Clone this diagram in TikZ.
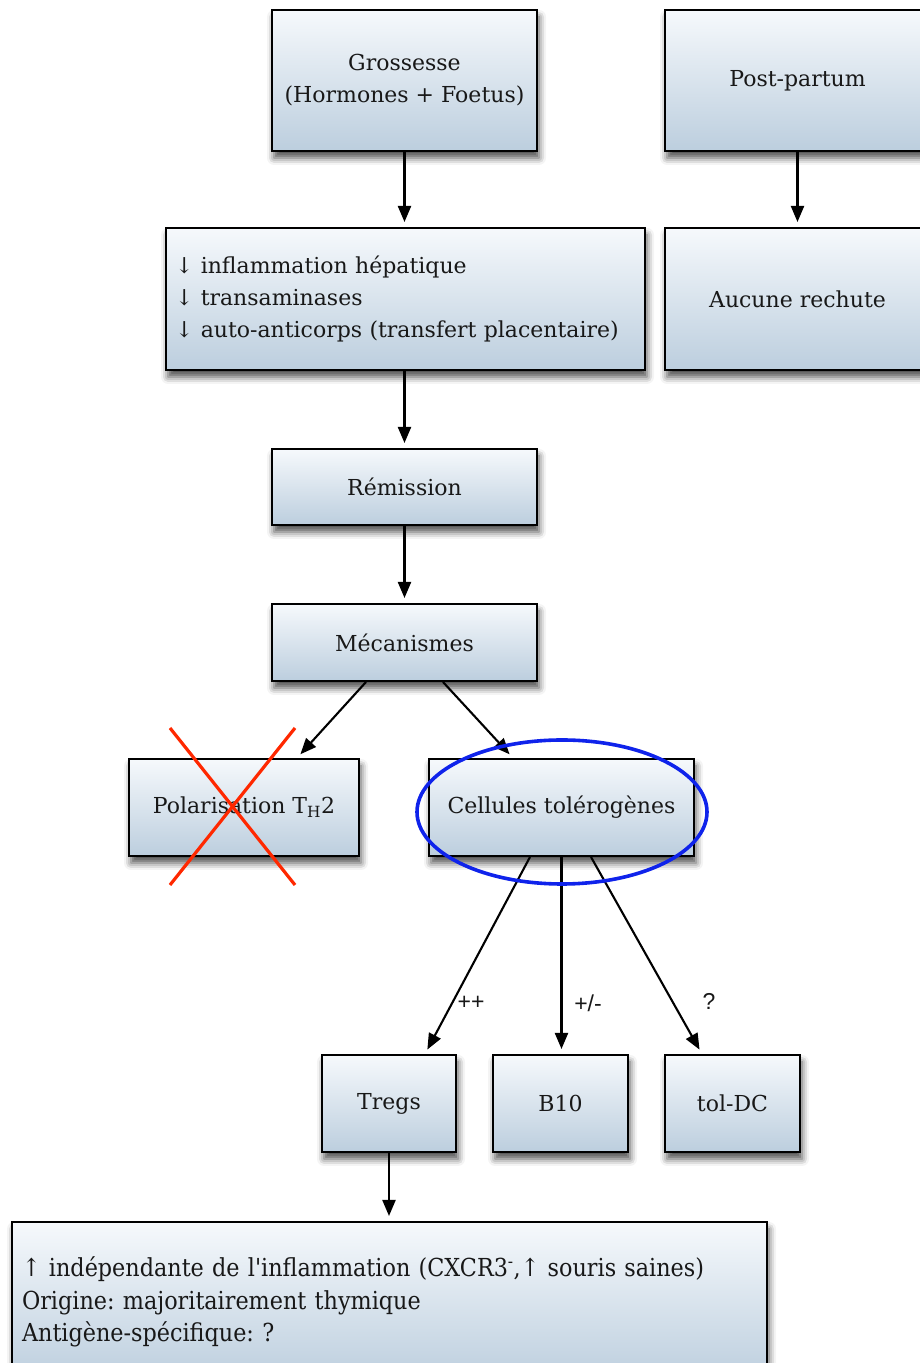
\documentclass[tikz,border=0pt]{standalone}
\usepackage{fontspec}
\setmainfont{DejaVu Serif}
\newfontfamily\condf{DejaVu Serif Condensed}
\newfontfamily\sansf{Liberation Sans}
\usetikzlibrary{arrows.meta,shadows.blur,calc,shapes.geometric}
\definecolor{boxtop}{RGB}{246,249,252}
\definecolor{boxbot}{RGB}{188,206,222}
\definecolor{txt}{RGB}{24,24,24}
\definecolor{xred}{RGB}{255,40,0}
\definecolor{eblue}{RGB}{15,35,235}
\frenchspacing
\begin{document}
\begin{tikzpicture}[x=1pt,y=1pt,
  box/.style={draw=black,line width=2pt,top color=boxtop,bottom color=boxbot,
    blur shadow={shadow xshift=2pt,shadow yshift=-7pt,shadow blur radius=7pt,shadow opacity=70},
    inner sep=0pt,text=txt,font=\fontsize{22}{32}\selectfont,align=center},
  arr/.style={line width=2.1pt,-{Triangle[length=16pt,width=13pt]},shorten >=5pt},
  lbl/.style={font=\sansf\fontsize{23}{25}\selectfont,text=txt,inner sep=0pt}]
\useasboundingbox (0,0) rectangle (920,1363);
\clip (0,0) rectangle (920,1363);
\node[box,minimum width=265pt,minimum height=141pt] (gro) at (404.5,1282.5) {Grossesse\\(Hormones + Foetus)};
\node[box,minimum width=265pt,minimum height=141pt] (post) at (797.5,1282.5) {Post-partum};
\node[box,minimum width=479pt,minimum height=142pt,inner xsep=9pt,text width=461pt,align=left] (list) at (405.5,1064) {↓ inflammation hépatique\\↓ transaminases\\↓ auto-anticorps (transfert placentaire)};
\node[box,minimum width=265pt,minimum height=142pt] (auc) at (797.5,1064) {Aucune rechute};
\node[box,minimum width=265pt,minimum height=76pt] (rem) at (404.5,876) {Rémission};
\node[box,minimum width=265pt,minimum height=77pt] (mec) at (404.5,720.5) {Mécanismes};
\node[box,minimum width=230pt,minimum height=97pt] (pol) at (244,555.5) {Polarisation T\textsubscript{H}2};
\node[box,minimum width=265pt,minimum height=97pt] (cel) at (561.5,555.5) {Cellules tolérogènes};
\node[box,minimum width=134pt,minimum height=97pt] (tregs) at (389,259.5) {Tregs};
\node[box,minimum width=135pt,minimum height=97pt] (b10) at (560.5,259.5) {B10};
\node[box,minimum width=135pt,minimum height=97pt] (tol) at (732.5,259.5) {tol-DC};
\node[box,minimum width=755pt,minimum height=160pt,inner xsep=10pt,text width=735pt,align=left,font=\condf\fontsize{24.8}{32.5}\selectfont] (bot) at (389.5,61) {↑ indépendante de l'inflammation (CXCR3\textsuperscript{-},↑ souris saines)\\Origine: majoritairement thymique\\Antigène-spécifique: ?};
\draw[arr] (gro.south) -- (gro.south |- list.north);
\draw[arr] (post.south) -- (post.south |- auc.north);
\draw[arr] (gro.south |- list.south) -- (rem.north);
\draw[arr] (rem.south) -- (mec.north);
\draw[arr] ([xshift=-38.5pt]mec.south) -- ([xshift=53pt]pol.north);
\draw[arr] ([xshift=38.5pt]mec.south) -- ([xshift=-48.5pt]cel.north);
\draw[arr] ([xshift=-31.5pt]cel.south) -- ([xshift=36pt]tregs.north);
\draw[arr] (cel.south) -- (cel.south |- b10.north);
\draw[arr] ([xshift=29.5pt]cel.south) -- ([xshift=-30.5pt]tol.north);
\draw[arr] (tregs.south) -- (tregs.south |- bot.north);
\node[lbl] (l1) at (471,360) {++};
\node[lbl] (l2) at (588,360) {+/-};
\node[lbl] (l3) at (709,362) {?};
\coordinate (xa) at (170,635);
\coordinate (xb) at (295,478);
\coordinate (xc) at (295,635);
\coordinate (xd) at (170,478);
\draw[xred,line width=3.2pt] (xa) -- (xb);
\draw[xred,line width=3.2pt] (xc) -- (xd);
\node[draw=eblue,line width=3.6pt,ellipse,minimum width=290pt,minimum height=144pt,inner sep=0pt] (ell) at (562,551) {};
\end{tikzpicture}
\end{document}
